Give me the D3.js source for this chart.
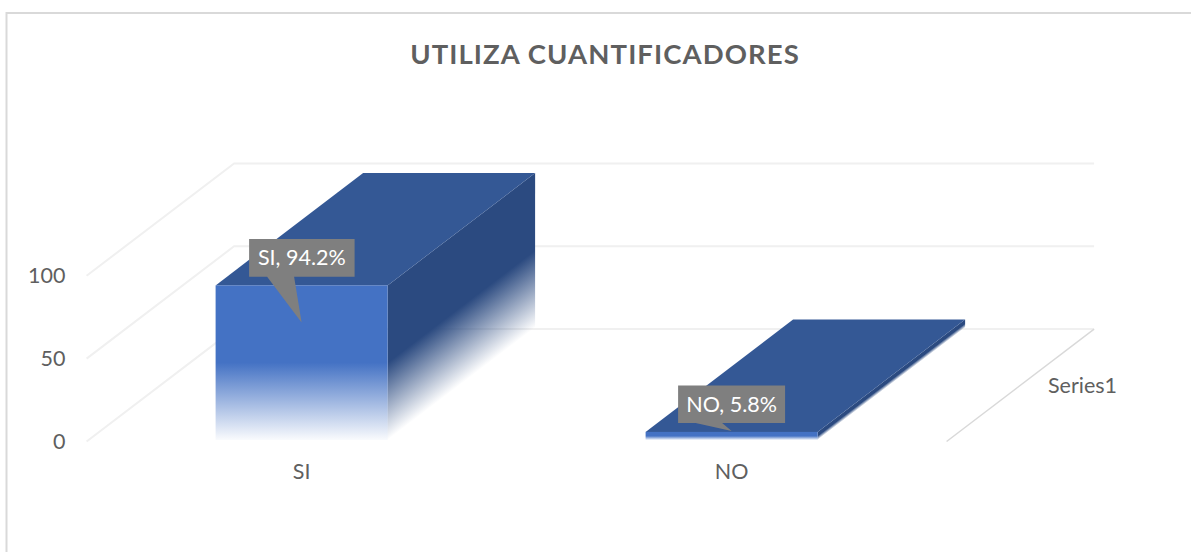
<!DOCTYPE html>
<html>
<head>
<meta charset="utf-8">
<script src="https://cdn.jsdelivr.net/npm/d3@7/dist/d3.min.js"></script>
<style>
html,body{margin:0;padding:0;background:#fff;overflow:hidden}
svg{display:block}
text{font-family:Lato,"Open Sans",sans-serif}
</style>
</head>
<body>
<svg id="chart" width="1191" height="552"></svg>
<script>
const chartTitle = "UTILIZA CUANTIFICADORES";
const categories = ["SI", "NO"];
const values = [94.2, 5.8];
const labels = ["SI, 94.2%", "NO, 5.8%"];
const yTicks = [0, 50, 100];
const seriesNames = ["Series1"];

const W = 1191, H = 552;
const depth = {dx: 147.5, dy: -112.4};
const x = d3.scaleBand().domain(categories).range([86.6, 946.6]).paddingInner(0.6).paddingOuter(0.3);
const y = d3.scaleLinear().domain([0, 100]).range([441.5, 275.8]);
const s = d3.select("#chart");
const ink = "#5f5f5f";

// chart frame
s.append("path").attr("d", `M6.5 ${H}V13H${W}`).attr("fill", "none").attr("stroke", "#d9d9d9").attr("stroke-width", 2);

s.append("text").attr("x", 605).attr("y", 64).attr("text-anchor", "middle")
  .attr("font-size", 27.5).attr("font-weight", 700).attr("letter-spacing", 1.08).attr("fill", ink).text(chartTitle);

// gridlines: side wall and back wall
const x0 = x.range()[0], x1 = x.range()[1];
const grid = s.append("g").attr("fill", "none").attr("stroke", "#f0f0f0").attr("stroke-width", 2);
yTicks.forEach(t => {
  grid.append("path").attr("d", `M${x0} ${y(t)}l${depth.dx} ${depth.dy}H${x1 + depth.dx}`);
});
s.append("path").attr("d", `M${x1} ${y(0)}l${depth.dx} ${depth.dy}`)
  .attr("fill", "none").attr("stroke", "#d9d9d9").attr("stroke-width", 1.5);

// gradients
const defs = s.append("defs");
const front = defs.append("linearGradient").attr("id", "frontFade").attr("x1", 0).attr("y1", 0).attr("x2", 0).attr("y2", 1);
front.append("stop").attr("offset", 0.5).attr("stop-color", "#4472c4");
front.append("stop").attr("offset", 1).attr("stop-color", "#4472c4").attr("stop-opacity", 0.03);

const bottomY = y(0) - 1.5;
const len = Math.hypot(depth.dx, depth.dy);
const nx = -depth.dy / len, ny = depth.dx / len; // normal to the depth direction

categories.forEach((c, i) => {
  const xl = x(c), w = x.bandwidth(), top = y(values[i]);
  const h = bottomY - top;
  // side face, fading across the depth direction
  const midY = top + h * 0.5;
  const proj = (bottomY - midY) * ny;
  const id = "sideFade" + i;
  const g = defs.append("linearGradient").attr("id", id).attr("gradientUnits", "userSpaceOnUse")
    .attr("x1", xl + w).attr("y1", midY)
    .attr("x2", xl + w + nx * proj).attr("y2", midY + ny * proj);
  g.append("stop").attr("offset", 0).attr("stop-color", "#2b4a80");
  g.append("stop").attr("offset", 1).attr("stop-color", "#2b4a80").attr("stop-opacity", 0);

  s.append("path").attr("fill", `url(#${id})`)
    .attr("d", `M${xl + w} ${top}l${depth.dx} ${depth.dy}V${bottomY + depth.dy}L${xl + w} ${bottomY}Z`);
  s.append("path").attr("fill", "#345895")
    .attr("d", `M${xl} ${top}l${depth.dx} ${depth.dy}h${w}l${-depth.dx} ${-depth.dy}Z`);
  s.append("rect").attr("x", xl).attr("y", top).attr("width", w).attr("height", h).attr("fill", "url(#frontFade)");
});

// axes
const yAxis = s.append("g").attr("transform", "translate(65.5,0)").call(d3.axisLeft(y).tickValues(yTicks).tickSize(0).tickPadding(0));
yAxis.select(".domain").remove();
yAxis.selectAll("text").attr("font-size", 21.5).attr("fill", ink).attr("dy", "0.32em").style("font-family", "Lato");

const xAxis = s.append("g").attr("transform", "translate(0,473)").call(d3.axisBottom(x).tickSize(0).tickPadding(0));
xAxis.select(".domain").remove();
xAxis.selectAll("text").attr("font-size", 21.5).attr("fill", ink).attr("dy", "0.3em").style("font-family", "Lato");

s.append("text").attr("x", 1048).attr("y", 393).attr("font-size", 21.5).attr("fill", ink).text(seriesNames[0]);

// data-label callouts (box and tip are placed relative to each bar)
const callouts = [
  {tipDy: 37, boxL: -52.5, boxR: 53, boxT: -83.5, boxB: -45.7, baseL: -34.5, baseR: -7.5},
  {tipDy: -1, boxL: -53.5, boxR: 53.5, boxT: -45.5, boxB: -8, baseL: -36, baseR: -9.5}
];
categories.forEach((c, i) => {
  const cx = x(c) + x.bandwidth() / 2, tip = y(values[i]) + callouts[i].tipDy, k = callouts[i];
  const by = tip + k.boxB;
  s.append("path").attr("fill", "#7f7f7f")
    .attr("d", `M${cx + k.boxL} ${tip + k.boxT}H${cx + k.boxR}V${by}H${cx + k.baseR}L${cx} ${tip}L${cx + k.baseL} ${by}H${cx + k.boxL}Z`);
  s.append("text").attr("x", cx + (k.boxL + k.boxR) / 2).attr("y", tip + (k.boxT + k.boxB) / 2 + 7.5)
    .attr("text-anchor", "middle").attr("font-size", 21.5).attr("fill", "#fff").text(labels[i]);
});
</script>
</body>
</html>
